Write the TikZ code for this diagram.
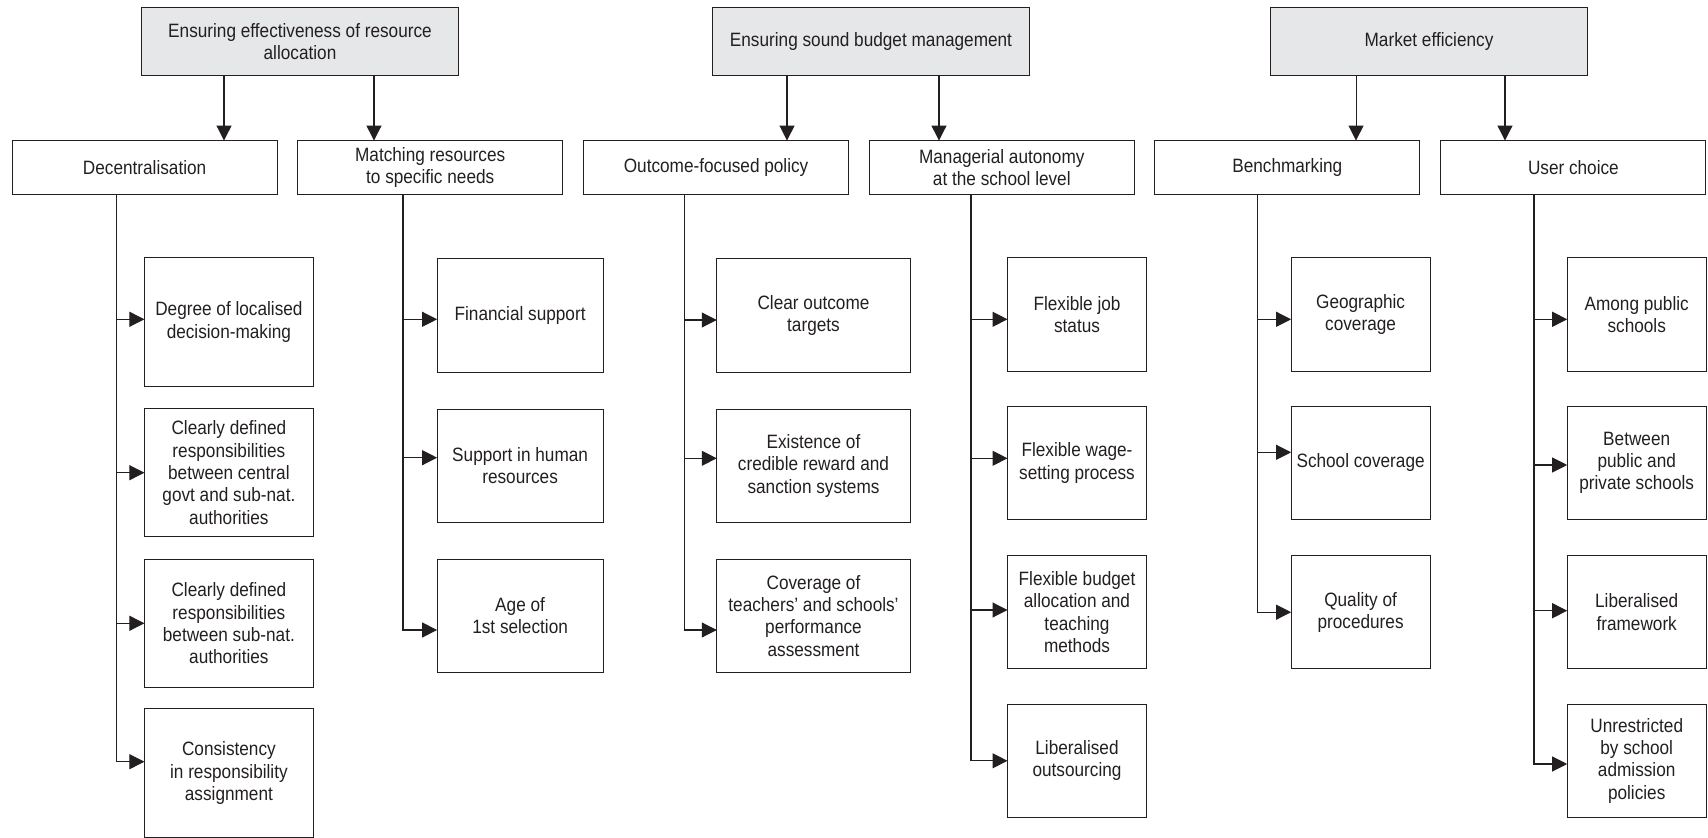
\documentclass[tikz,border=0pt]{standalone}
\usepackage{fontspec}
\setmainfont{Liberation Sans}[FakeStretch=0.89]
\usepackage{tikz}
\usetikzlibrary{arrows.meta, positioning}
\usepackage{xcolor}
\definecolor{inkgray}{RGB}{35,31,32}
\definecolor{headfill}{RGB}{230,231,232}

\begin{document}
\begin{tikzpicture}[x = 0.02cm, y = -0.02cm, color = inkgray,
    font = \fontsize{11}{12.7}\selectfont,
    cell/.style = {draw, line width = 0.6pt, inner sep = 0pt, outer sep = 0pt, align = center},
    headbox/.style = {cell, fill = headfill, minimum width = 6.34cm, minimum height = 1.36cm},
    subbox/.style = {cell, minimum width = 5.3cm, minimum height = 1.07cm},
    leafbox/.style = {cell, minimum height = 2.27cm},
    arr/.style = {line width = 0.6pt, -{Triangle[length = 0.3cm, width = 0.3cm]}}]
    \useasboundingbox (0,0) rectangle (1708,838);
    % Obiettivi
    \node[headbox] (eff) at (300,41.5) {Ensuring effectiveness of resource\\allocation};
    \node[headbox] (bud) at (871,41.5) {Ensuring sound budget management};
    \node[headbox] (mkt) at (1429,41.5) {Market efficiency};
    % Secondo livello
    \node[subbox] (dec) at (144.6,167.3) {Decentralisation};
    \node[subbox] (mat) at (430.2,167.3) {Matching resources\\to specific needs};
    \node[subbox] (out) at (716.1,167.3) {Outcome-focused policy};
    \node[subbox] (man) at (1001.8,167.3) {Managerial autonomy\\at the school level};
    \node[subbox] (ben) at (1287.3,167.3) {Benchmarking};
    \node[subbox] (usr) at (1573.4,167.3) {User choice};
    % frecce dagli obiettivi
    \draw[arr] ([xshift = -1.52cm]eff.south) -- ([xshift = -1.52cm]eff.south |- dec.north);
    \draw[arr] ([xshift = 1.48cm]eff.south) -- ([xshift = 1.48cm]eff.south |- mat.north);
    \draw[arr] ([xshift = -1.68cm]bud.south) -- ([xshift = -1.68cm]bud.south |- out.north);
    \draw[arr] ([xshift = 1.36cm]bud.south) -- ([xshift = 1.36cm]bud.south |- man.north);
    \draw[arr] ([xshift = -1.46cm]mkt.south) -- ([xshift = -1.46cm]mkt.south |- ben.north);
    \draw[arr] ([xshift = 1.52cm]mkt.south) -- ([xshift = 1.52cm]mkt.south |- usr.north);

    % Decentralisation
    \node[leafbox, minimum width = 3.38cm, minimum height = 2.57cm] (dec1) at (228.9,322) {Degree of localised\\decision-making};
    \node[leafbox, minimum width = 3.38cm, minimum height = 2.57cm] (dec2) at (228.9,472.7) {Clearly defined\\responsibilities\\between central\\govt and sub-nat.\\authorities};
    \node[leafbox, minimum width = 3.38cm, minimum height = 2.57cm] (dec3) at (228.9,623.3) {Clearly defined\\responsibilities\\between sub-nat.\\authorities};
    \node[leafbox, minimum width = 3.38cm, minimum height = 2.57cm] (dec4) at (228.9,773) {Consistency\\in responsibility\\assignment};
    \coordinate (tdec) at (116.7,194);
    \draw[arr] (tdec) |- ([yshift = 0.226cm]dec4.west);
    \draw[arr] ([yshift = 0.054cm]dec1.west -| tdec) -- ([yshift = 0.054cm]dec1.west);
    \draw[arr] (dec2.west -| tdec) -- (dec2.west);
    \draw[arr] (dec3.west -| tdec) -- (dec3.west);

    % Matching resources
    \node[leafbox, minimum width = 3.32cm] (mat1) at (520.1,315.7) {Financial support};
    \node[leafbox, minimum width = 3.32cm] (mat2) at (520.1,465.8) {Support in human\\resources};
    \node[leafbox, minimum width = 3.32cm] (mat3) at (520.1,615.8) {Age of\\1st selection};
    \coordinate (tmat) at (403,194);
    \draw[arr] (tmat) |- ([yshift = -0.284cm]mat3.west);
    \draw[arr] ([yshift = -0.072cm]mat1.west -| tmat) -- ([yshift = -0.072cm]mat1.west);
    \draw[arr] ([yshift = 0.162cm]mat2.west -| tmat) -- ([yshift = 0.162cm]mat2.west);

    % Outcome-focused policy
    \node[leafbox, minimum width = 3.87cm] (out1) at (813.5,315.7) {Clear outcome\\targets};
    \node[leafbox, minimum width = 3.87cm] (out2) at (813.5,465.8) {Existence of\\credible reward and\\sanction systems};
    \node[leafbox, minimum width = 3.87cm] (out3) at (813.5,615.8) {Coverage of\\teachers' and schools'\\performance\\assessment};
    \coordinate (tout) at (684.4,194);
    \draw[arr] (tout) |- ([yshift = -0.284cm]out3.west);
    \draw[arr] ([yshift = -0.086cm]out1.west -| tout) -- ([yshift = -0.086cm]out1.west);
    \draw[arr] ([yshift = 0.15cm]out2.west -| tout) -- ([yshift = 0.15cm]out2.west);

    % Managerial autonomy
    \node[leafbox, minimum width = 2.78cm] (man1) at (1077,314.3) {Flexible job\\status};
    \node[leafbox, minimum width = 2.78cm] (man2) at (1077,463) {Flexible wage-\\setting process};
    \node[leafbox, minimum width = 2.78cm] (man3) at (1077,612.2) {Flexible budget\\allocation and\\teaching\\methods};
    \node[leafbox, minimum width = 2.78cm] (man4) at (1077,760.8) {Liberalised\\outsourcing};
    \coordinate (tman) at (971,194);
    \draw[arr] (tman) |- (man4.west);
    \draw[arr] ([yshift = -0.1cm]man1.west -| tman) -- ([yshift = -0.1cm]man1.west);
    \draw[arr] ([yshift = 0.094cm]man2.west -| tman) -- ([yshift = 0.094cm]man2.west);
    \draw[arr] ([yshift = 0.044cm]man3.west -| tman) -- ([yshift = 0.044cm]man3.west);

    % Benchmarking
    \node[leafbox, minimum width = 2.78cm] (ben1) at (1360.6,314.3) {Geographic\\coverage};
    \node[leafbox, minimum width = 2.78cm] (ben2) at (1360.6,463) {School coverage};
    \node[leafbox, minimum width = 2.78cm] (ben3) at (1360.6,612.2) {Quality of\\procedures};
    \coordinate (tben) at (1257.3,194);
    \draw[arr] (tben) |- (ben3.west);
    \draw[arr] ([yshift = -0.1cm]ben1.west -| tben) -- ([yshift = -0.1cm]ben1.west);
    \draw[arr] ([yshift = 0.214cm]ben2.west -| tben) -- ([yshift = 0.214cm]ben2.west);

    % User choice
    \node[leafbox, minimum width = 2.78cm] (usr1) at (1636.7,314.3) {Among public\\schools};
    \node[leafbox, minimum width = 2.78cm] (usr2) at (1636.7,463) {Between\\public and\\private schools};
    \node[leafbox, minimum width = 2.78cm] (usr3) at (1636.7,612.2) {Liberalised\\framework};
    \node[leafbox, minimum width = 2.78cm] (usr4) at (1636.7,760.8) {Unrestricted\\by school\\admission\\policies};
    \coordinate (tusr) at (1534,194);
    \draw[arr] (tusr) |- ([yshift = -0.064cm]usr4.west);
    \draw[arr] ([yshift = -0.1cm]usr1.west -| tusr) -- ([yshift = -0.1cm]usr1.west);
    \draw[arr] ([yshift = -0.04cm]usr2.west -| tusr) -- ([yshift = -0.04cm]usr2.west);
    \draw[arr] ([yshift = 0.03cm]usr3.west -| tusr) -- ([yshift = 0.03cm]usr3.west);
\end{tikzpicture}
\end{document}
